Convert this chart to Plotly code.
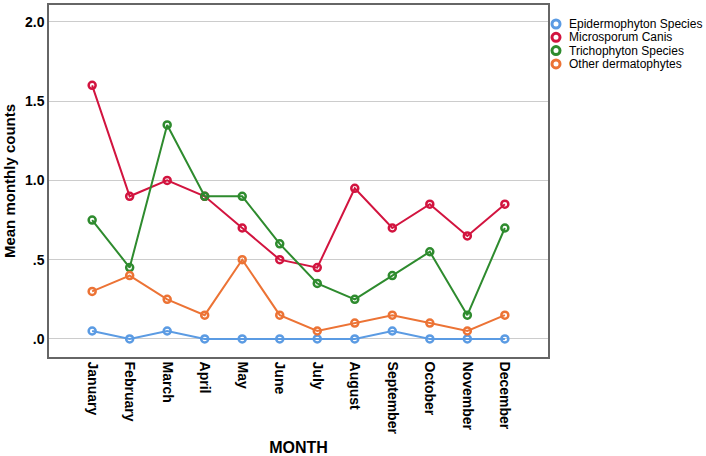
import plotly.graph_objects as go

months = ["January", "February", "March", "April", "May", "June", "July",
          "August", "September", "October", "November", "December"]
epidermophyton = [0.05, 0, 0.05, 0, 0, 0, 0, 0, 0.05, 0, 0, 0]
microsporum = [1.6, 0.9, 1.0, 0.9, 0.7, 0.5, 0.45, 0.95, 0.7, 0.85, 0.65, 0.85]
trichophyton = [0.75, 0.45, 1.35, 0.9, 0.9, 0.6, 0.35, 0.25, 0.4, 0.55, 0.15, 0.7]
other = [0.3, 0.4, 0.25, 0.15, 0.5, 0.15, 0.05, 0.1, 0.15, 0.1, 0.05, 0.15]

series_names = ["Epidermophyton Species", "Microsporum Canis",
                "Trichophyton Species", "Other dermatophytes"]
series_values = [epidermophyton, microsporum, trichophyton, other]
series_colors = ["#5B9BE3", "#D2143F", "#2E8B2E", "#EC7335"]

L, R, T, B = 49, 158, 5, 99
W, H = 706, 456
pw, ph = W - L - R, H - T - B

fig = go.Figure()
for name, vals, col in zip(series_names, series_values, series_colors):
    fig.add_trace(go.Scatter(
        x=list(range(len(months))), y=vals, name=name, mode="lines+markers",
        line=dict(color=col, width=2), showlegend=False,
        marker=dict(symbol="circle-open", size=7, color=col, line=dict(width=2.5, color=col)),
    ))

# custom legend (markers only, tight spacing)
shapes = []
annotations = []
for i, (name, col) in enumerate(zip(series_names, series_colors)):
    ypx = 24 + i * 13.3
    yp = 1 - (ypx - T) / ph
    xp = (556 - L) / pw
    shapes.append(dict(type="circle", xref="paper", yref="paper",
                       xsizemode="pixel", ysizemode="pixel",
                       xanchor=xp, yanchor=yp, x0=-4, x1=4, y0=-4, y1=4,
                       line=dict(color=col, width=3), fillcolor="white"))
    annotations.append(dict(text=name, xref="paper", yref="paper",
                            x=(567 - L) / pw, y=yp, xanchor="left", yanchor="middle",
                            showarrow=False, font=dict(size=12, color="black")))

fig.update_layout(
    width=W, height=H,
    margin=dict(l=L, r=R, t=T, b=B, autoexpand=False),
    paper_bgcolor="white", plot_bgcolor="white",
    font=dict(family="Liberation Sans, Arial", color="black"),
    showlegend=False,
    shapes=shapes, annotations=annotations,
    xaxis=dict(
        range=[-1.15, 12.15], tickmode="array", tickvals=list(range(12)),
        ticktext=[f"<b>{m}</b>" for m in months], tickangle=90,
        tickfont=dict(size=14), showgrid=False, zeroline=False, automargin=False,
        showline=True, linecolor="#666666", linewidth=1.5, mirror=True,
        ticks="", title=dict(text="<b>MONTH</b>", font=dict(size=16), standoff=10),
    ),
    yaxis=dict(
        range=[-0.114, 2.107], tickmode="array", tickvals=[0, 0.5, 1.0, 1.5, 2.0],
        ticktext=["<b>.0</b>", "<b>.5</b>", "<b>1.0</b>", "<b>1.5</b>", "<b>2.0</b>"],
        tickfont=dict(size=14), showgrid=True, gridcolor="#CCCCCC", gridwidth=1,
        zeroline=False, showline=True, linecolor="#666666", linewidth=1.5, mirror=True,
        automargin=False,
        ticks="", title=dict(text="<b>Mean monthly counts</b>", font=dict(size=15), standoff=6),
    ),
)

fig.write_html("out.html", config={"displayModeBar": False},
               post_script="document.body.style.margin='0px';")
